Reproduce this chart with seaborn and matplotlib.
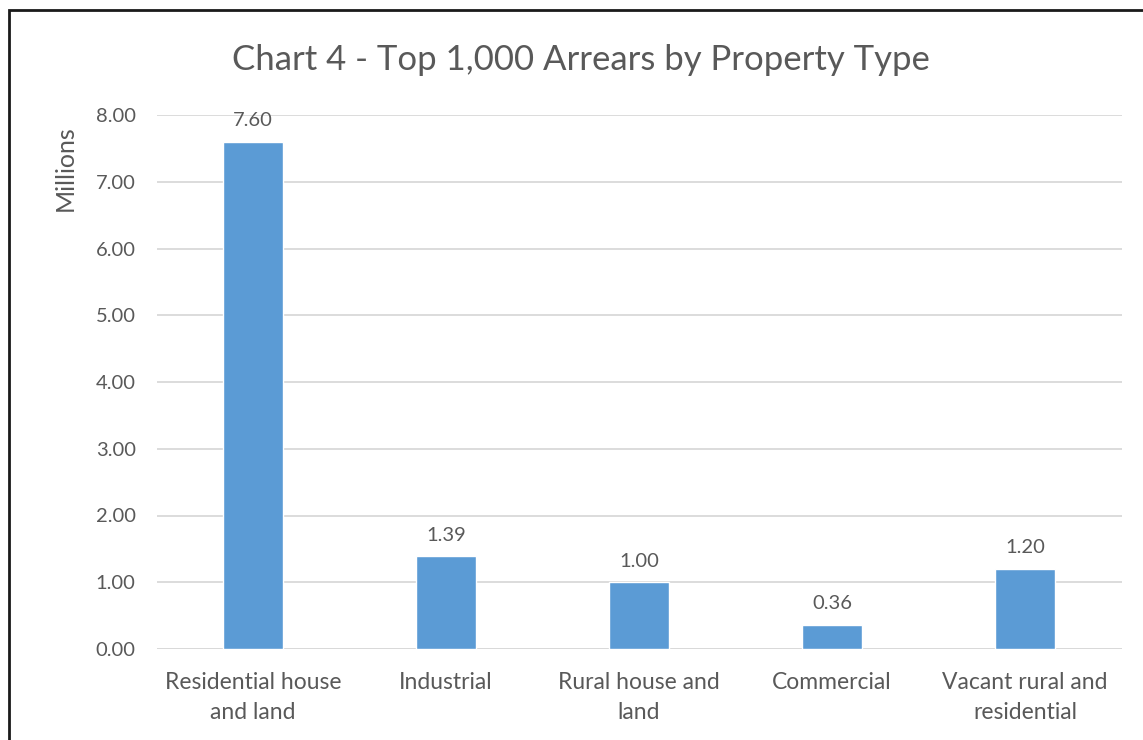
import matplotlib
matplotlib.use("Agg")
import matplotlib.pyplot as plt
import seaborn as sns
import pandas as pd
from matplotlib.patches import Rectangle

categories = ["Residential house\nand land", "Industrial", "Rural house and\nland", "Commercial", "Vacant rural and\nresidential"]
values = [7.60, 1.39, 1.00, 0.36, 1.20]
yticks = [0, 1, 2, 3, 4, 5, 6, 7, 8]

sns.set_theme(style="white")
plt.rcParams['font.family'] = ['Lato', 'DejaVu Sans']

df = pd.DataFrame({"cat": categories, "val": values})

fig = plt.figure(figsize=(11.43, 7.40), dpi=100)
ax = fig.add_axes([156.5/1143, 1-649/740, (1121.5-156.5)/1143, (649-115)/740])
sns.barplot(data=df, x="cat", y="val", color="#5B9BD5", width=0.31, ax=ax, saturation=1)

txt = "#595959"
ax.set_ylim(0, 8)
ax.set_xlim(-0.5, len(categories)-0.5)
ax.set_yticks(yticks)
ax.set_yticklabels([f"{v:.2f}" for v in yticks], color=txt, fontsize=14.5)
ax.tick_params(axis='x', colors=txt, labelsize=16.5, length=0, pad=16.5)
ax.tick_params(axis='y', length=0, pad=15)
for lab in ax.get_xticklabels():
    lab.set_color(txt)
    lab.set_linespacing(1.55)
ax.yaxis.grid(True, color="#D9D9D9", linewidth=1.3)
ax.set_axisbelow(True)
for s in ax.spines.values():
    s.set_visible(False)
ax.axhline(0, color="#D9D9D9", linewidth=1.3, zorder=0)
ax.set_xlabel("")
ax.set_ylabel("")
fig.text(65/1143, 1-168/740, "Millions", rotation=90, ha="center", va="center",
         color=txt, fontsize=18)

for i, v in enumerate(values):
    ax.annotate(f"{v:.2f}", (i, v), xytext=(0, 9), textcoords="offset points",
                ha="center", va="bottom", color=txt, fontsize=14.5)

fig.text(581/1143, 1-60/740, "Chart 4 - Top 1,000 Arrears by Property Type",
         ha="center", va="center", color=txt, fontsize=25)

fig.patches.append(Rectangle((9/1143, -0.1), 1.2, 1-10/740+0.1, transform=fig.transFigure,
                             fill=False, edgecolor="#1a1a1a", linewidth=2))

fig.savefig("out.png", dpi=100)
